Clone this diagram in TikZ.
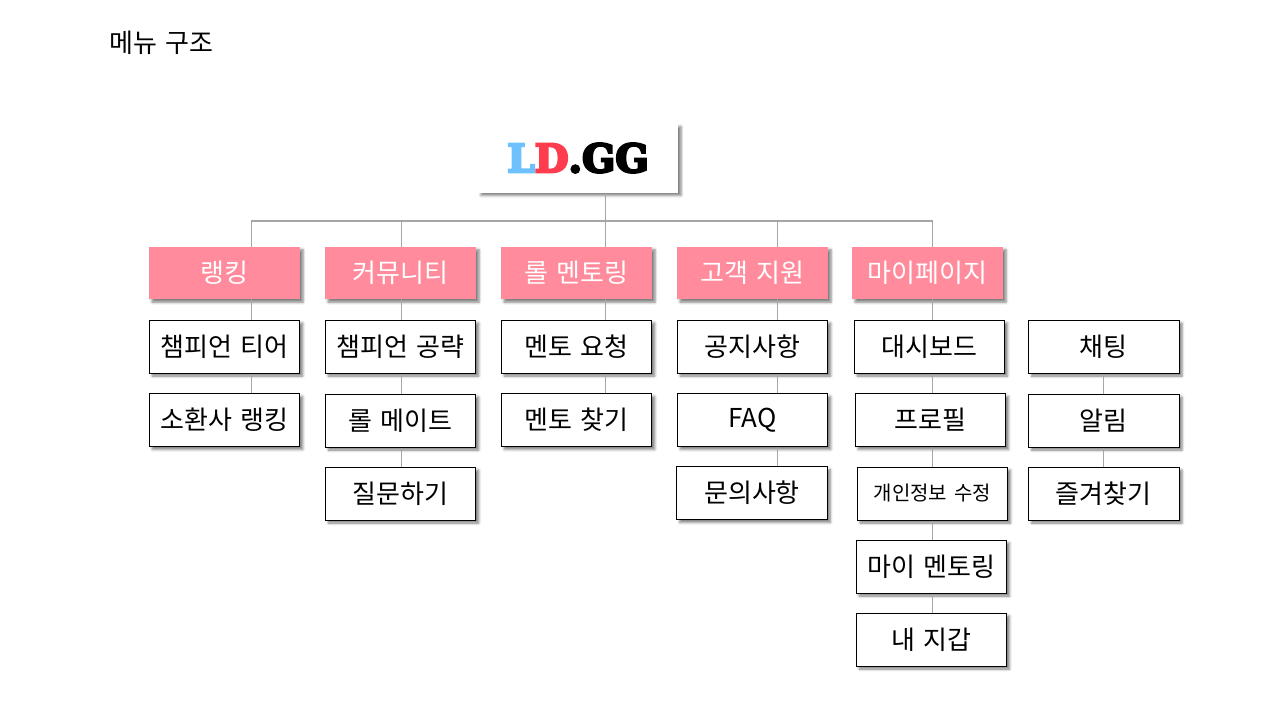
\documentclass[tikz,border=0pt]{standalone}
\usepackage{fontspec}
\setmainfont[WordSpace=1.5]{Noto Sans CJK KR}
\newfontfamily\logofont[BoldFeatures={FakeBold=6}]{DejaVu Serif}
\usepackage{xcolor}
\usetikzlibrary{shadows.blur}
\definecolor{menupink}{HTML}{FF8B9D}
\definecolor{linkgray}{HTML}{A6A6A6}
\definecolor{logoblue}{HTML}{6EC1FF}
\definecolor{logored}{HTML}{FF3B4E}
\tikzset{
	softshadow/.style={blur shadow={shadow xshift=3pt, shadow yshift=-3pt, shadow blur radius=2.5pt, shadow opacity=50}}
}
\tikzset{
	menutop/.style={softshadow, fill=menupink, text=white, minimum width=151, minimum height=52.5, inner sep=0pt, font=\fontsize{26}{30}\selectfont}
}
\tikzset{
	menusub/.style={softshadow, fill=white, draw=black, line width=1pt, minimum width=150.5, minimum height=53, inner sep=0pt, font=\fontsize{26}{30}\selectfont}
}
\tikzset{
	link/.style={draw=linkgray, line width=1pt}
}
\tikzset{
	bus/.style={draw=linkgray, line width=2pt}
}
\begin{document}
\begin{tikzpicture}[x=1pt, y=-1pt]
		\useasboundingbox (0,0) rectangle (1280,720);

		% column centres and row centres
		\newcommand{\xrank}{224.5}
		\newcommand{\xcomm}{400.5}
		\newcommand{\xmentor}{576.5}
		\newcommand{\xhelp}{752.5}
		\newcommand{\xmine}{927.5}
		\newcommand{\xextra}{1103.8}
		\newcommand{\ytop}{273}
		\newcommand{\yfirst}{346.5}
		\newcommand{\ysecond}{420.5}
		\newcommand{\ythird}{493.5}

		% title
		\node[anchor=west, inner sep=0pt, font=\fontsize{26}{30}\selectfont] (title) at (109,43) {메뉴 구조};

		% logo
		\node[softshadow, fill=white, minimum width=200, minimum height=69, inner sep=0pt, font=\logofont\bfseries\fontsize{39}{40}\selectfont] (logo) at (578,158) {{\color{logoblue}L}{\color{logored}D}.GG};

		% top row
		\node[menutop] (rank) at (\xrank,\ytop) {랭킹};
		\node[menutop] (comm) at (\xcomm,\ytop) {커뮤니티};
		\node[menutop] (mentor) at (\xmentor,\ytop) {롤 멘토링};
		\node[menutop] (help) at (\xhelp,\ytop) {고객 지원};
		\node[menutop] (mine) at (\xmine,\ytop) {마이페이지};

		% ranking
		\node[menusub] (tier) at (\xrank,\yfirst) {챔피언 티어};
		\node[menusub] (summoner) at (\xrank,420) {소환사 랭킹};

		% community
		\node[menusub] (guide) at (\xcomm,\yfirst) {챔피언 공략};
		\node[menusub] (mate) at (\xcomm,\ysecond) {롤 메이트};
		\node[menusub] (question) at (\xcomm,\ythird) {질문하기};

		% mentoring
		\node[menusub] (request) at (\xmentor,\yfirst) {멘토 요청};
		\node[menusub] (find) at (\xmentor,420) {멘토 찾기};

		% support
		\node[menusub] (notice) at (\xhelp,\yfirst) {공지사항};
		\node[menusub] (faq) at (\xhelp,420) {\raisebox{-1.5pt}{FAQ}};
		\node[menusub] (inquiry) at (752,493) {문의사항};

		% my page
		\node[menusub] (board) at (929.3,\yfirst) {대시보드};
		\node[menusub] (profile) at (930.3,420) {프로필};
		\node[menusub, font=\fontsize{20}{24}\selectfont] (privacy) at (932.3,493.5) {개인정보 수정};
		\node[menusub] (mymentor) at (931.3,566.5) {마이 멘토링};
		\node[menusub] (wallet) at (931.3,639.5) {내 지갑};

		% extra column
		\node[menusub] (chat) at (\xextra,\yfirst) {채팅};
		\node[menusub] (alarm) at (\xextra,\ysecond) {알림};
		\node[menusub] (favorite) at (\xextra,\ythird) {즐겨찾기};

		% bus
		\coordinate (busrank) at (251,221);
		\coordinate (buscomm) at (401.5,221);
		\coordinate (busmentor) at (605.5,221);
		\coordinate (bushelp) at (777.5,221);
		\coordinate (busmine) at (932.5,221);
		\coordinate (busextra) at (1103.5,221);

		\draw[bus] (busrank) -- (busmine);
		\draw[link] (busmentor |- logo.south) -- (busmentor);

		\draw[link] (busrank) -- (busrank |- rank.north);
		\draw[link] (buscomm) -- (buscomm |- comm.north);
		\draw[link] (busmentor) -- (busmentor |- mentor.north);
		\draw[link] (bushelp) -- (bushelp |- help.north);
		\draw[link] (busmine) -- (busmine |- mine.north);

		% links between boxes
		\draw[link] (busrank |- rank.south) -- (busrank |- tier.north);
		\draw[link] (busrank |- tier.south) -- (busrank |- summoner.north);

		\draw[link] (buscomm |- comm.south) -- (buscomm |- guide.north);
		\draw[link] (buscomm |- guide.south) -- (buscomm |- mate.north);
		\draw[link] (buscomm |- mate.south) -- (buscomm |- question.north);

		\draw[link] (busmentor |- mentor.south) -- (busmentor |- request.north);
		\draw[link] (busmentor |- request.south) -- (busmentor |- find.north);

		\draw[link] (bushelp |- help.south) -- (bushelp |- notice.north);
		\draw[link] (bushelp |- notice.south) -- (bushelp |- faq.north);
		\draw[link] (bushelp |- faq.south) -- (bushelp |- inquiry.north);

		\draw[link] (busmine |- mine.south) -- (busmine |- board.north);
		\draw[link] (busmine |- board.south) -- (busmine |- profile.north);
		\draw[link] (busmine |- profile.south) -- (busmine |- privacy.north);
		\draw[link] (busmine |- privacy.south) -- (busmine |- mymentor.north);
		\draw[link] (busmine |- mymentor.south) -- (busmine |- wallet.north);

		\draw[link] (busextra |- chat.south) -- (busextra |- alarm.north);
		\draw[link] (busextra |- alarm.south) -- (busextra |- favorite.north);

	\end{tikzpicture}
\end{document}
